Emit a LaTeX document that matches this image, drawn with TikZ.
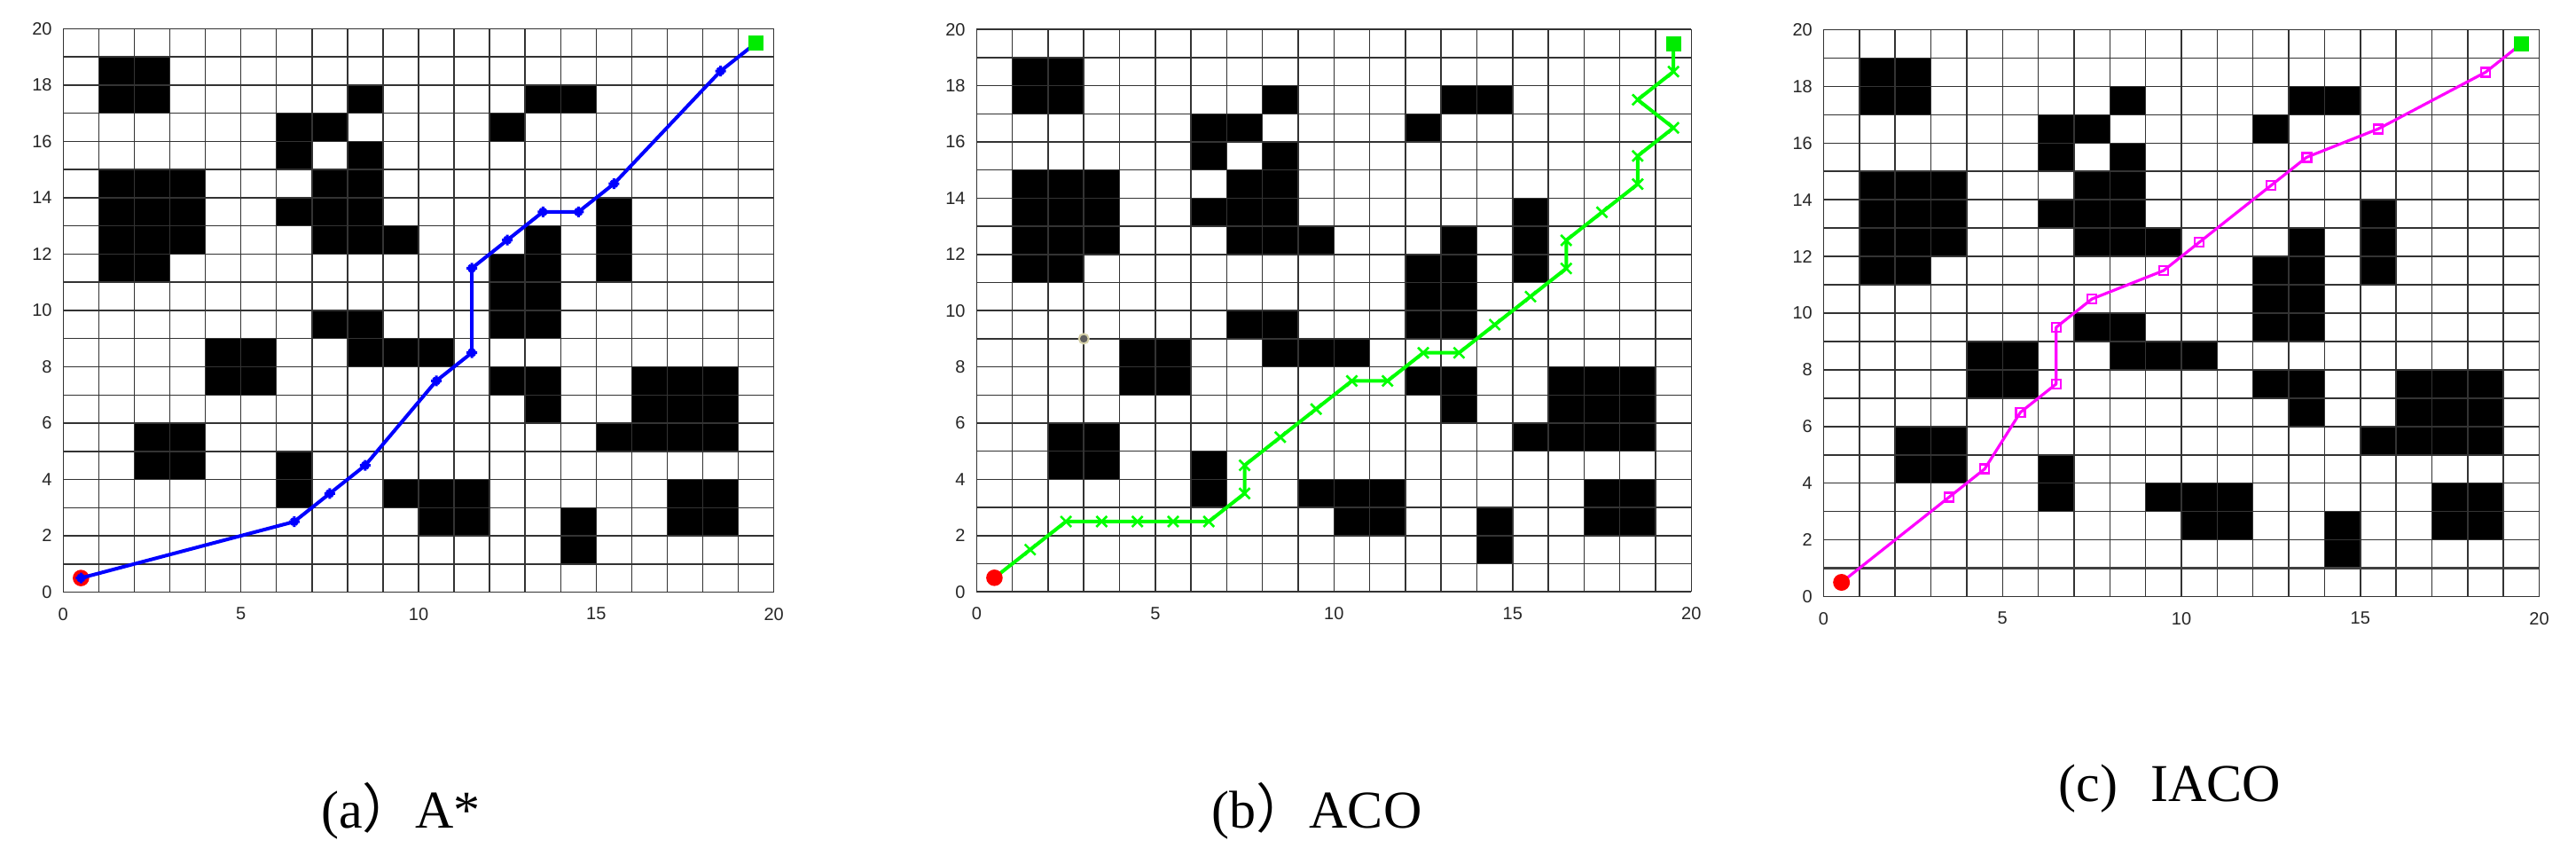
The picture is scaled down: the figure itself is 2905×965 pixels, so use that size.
\documentclass[tikz,border=0pt]{standalone}
\usepackage{fontspec}
\setmainfont{Liberation Serif}
\newfontfamily\axisfont{Liberation Sans}
\newfontfamily\cjkfont{Noto Sans CJK SC}
\definecolor{pathblue}{RGB}{0,0,255}
\definecolor{pathgreen}{RGB}{0,255,0}
\definecolor{pathmag}{RGB}{255,0,255}
\definecolor{startred}{RGB}{255,0,0}
\definecolor{goalgreen}{RGB}{0,235,0}
\definecolor{dotgray}{RGB}{95,95,95}
\definecolor{dotrim}{RGB}{215,210,170}
\tikzset{
  gridline/.style={line width=1.5pt, draw=black!80},
  obst/.style={fill=black},
  ticklab/.style={inner sep=0pt, text=black!85, font=\axisfont\fontsize{20}{24}\selectfont},
  ylab/.style={ticklab, anchor=east, xshift=-12.5pt},
  xlab/.style={ticklab, anchor=north, yshift=-17.5pt},
  figcap/.style={anchor=base, inner sep=0pt, font=\fontsize{60}{72}\selectfont},
  astarline/.style={draw=pathblue, line width=4pt, line join=round, line cap=round},
  astarmark/.style={draw=pathblue, line width=3pt},
  acoline/.style={draw=pathgreen, line width=4pt, line join=round, line cap=round},
  acomark/.style={draw=pathgreen, line width=2.6pt},
  iacoline/.style={draw=pathmag, line width=3.2pt, line join=round, line cap=round},
  iacomark/.style={draw=pathmag, line width=2.5pt},
  startpt/.style={fill=startred},
  goalpt/.style={fill=goalgreen},
}
\newcommand\gridmap[1]{%
  \foreach \ax/\ay/\bx/\by in {1/17/3/19, 8/17/9/18, 13/17/15/18, 6/16/8/17, 12/16/13/17,
    6/15/7/16, 8/15/9/16, 1/12/4/15, 1/11/3/12, 7/14/9/15, 6/13/9/14, 7/12/10/13,
    13/12/14/13, 12/9/14/12, 15/11/16/14, 7/9/9/10, 4/7/6/9, 8/8/11/9, 12/7/14/8,
    13/6/14/7, 16/5/19/8, 15/5/16/6, 2/4/4/6, 6/3/7/5, 9/3/12/4, 10/2/12/3,
    14/1/15/3, 17/2/19/4}
    \fill[obst] (\ax,\ay) rectangle (\bx,\by);
  \foreach \i in {0,...,20} {
    \draw[gridline] (\i,0) -- (\i,20);
    \draw[gridline] (0,\i) -- (20,\i);
  }
  \foreach \v in {0,2,...,20} \node[ylab] (#1y\v) at (0,\v) {\v};
  \foreach \v in {0,5,...,20} \node[xlab] (#1x\v) at (\v,0) {\v};
}
\begin{document}
\begin{tikzpicture}[x=1pt,y=-1pt]
\path[use as bounding box, fill=white] (0,0) rectangle (2905,965);

% ---------- (a) A* ----------
\begin{scope}[shift={(71.3pt,-667.5pt)}, x={(40.07pt,0pt)}, y={(0pt,31.75pt)}]
  \gridmap{a}
  \fill[startpt] (0.5,0.5) circle[radius=9.3pt];
  \draw[astarline] (0.5,0.5) -- (6.5,2.5) -- (7.5,3.5) -- (8.5,4.5) -- (10.5,7.5)
    -- (11.5,8.5) -- (11.5,11.5) -- (12.5,12.5) -- (13.5,13.5) -- (14.5,13.5)
    -- (15.5,14.5) -- (18.5,18.5) -- (19.5,19.5);
  \foreach \px/\py in {0.5/0.5, 6.5/2.5, 7.5/3.5, 8.5/4.5, 10.5/7.5, 11.5/8.5,
      11.5/11.5, 12.5/12.5, 13.5/13.5, 14.5/13.5, 15.5/14.5, 18.5/18.5}
    \draw[astarmark] (\px,\py) +(-6pt,0pt) -- +(6pt,0pt) +(0pt,-6pt) -- +(0pt,6pt)
      +(-3.5pt,-3.5pt) -- +(3.5pt,3.5pt) +(-3.5pt,3.5pt) -- +(3.5pt,-3.5pt);
  \fill[goalpt] (19.5,19.5) ++(-8.5pt,-8.5pt) rectangle ++(17pt,17pt);
\end{scope}

% ---------- (b) ACO ----------
\begin{scope}[shift={(1101.3pt,-667.2pt)}, x={(40.3pt,0pt)}, y={(0pt,31.7pt)}]
  \gridmap{b}
  \filldraw[fill=dotgray, draw=dotrim, line width=2pt] (3,9) circle[radius=5.5pt];
  \draw[acoline] (0.5,0.5) -- (1.5,1.5) -- (2.5,2.5) -- (3.5,2.5) -- (4.5,2.5) -- (5.5,2.5)
    -- (6.5,2.5) -- (7.5,3.5) -- (7.5,4.5) -- (8.5,5.5) -- (9.5,6.5) -- (10.5,7.5)
    -- (11.5,7.5) -- (12.5,8.5) -- (13.5,8.5) -- (14.5,9.5) -- (15.5,10.5) -- (16.5,11.5)
    -- (16.5,12.5) -- (17.5,13.5) -- (18.5,14.5) -- (18.5,15.5) -- (19.5,16.5)
    -- (18.5,17.5) -- (19.5,18.5) -- (19.5,19.5);
  \foreach \px/\py in {1.5/1.5, 2.5/2.5, 3.5/2.5, 4.5/2.5, 5.5/2.5, 6.5/2.5, 7.5/3.5,
      7.5/4.5, 8.5/5.5, 9.5/6.5, 10.5/7.5, 11.5/7.5, 12.5/8.5, 13.5/8.5, 14.5/9.5,
      15.5/10.5, 16.5/11.5, 16.5/12.5, 17.5/13.5, 18.5/14.5, 18.5/15.5, 19.5/16.5,
      18.5/17.5, 19.5/18.5}
    \draw[acomark] (\px,\py) +(-6pt,-6pt) -- +(6pt,6pt) +(-6pt,6pt) -- +(6pt,-6pt);
  \fill[startpt] (0.5,0.5) circle[radius=9.3pt];
  \fill[goalpt] (19.5,19.5) ++(-8.5pt,-8.5pt) rectangle ++(17pt,17pt);
\end{scope}

% ---------- (c) IACO ----------
\begin{scope}[shift={(2056.5pt,-672.5pt)}, x={(40.35pt,0pt)}, y={(0pt,31.95pt)}]
  \gridmap{c}
  \draw[line width=2.4pt, draw=black!75] (0,1) -- (20,1);
  \draw[iacoline] (0.5,0.5) -- (3.5,3.5) -- (4.5,4.5) -- (5.5,6.5) -- (6.5,7.5)
    -- (6.5,9.5) -- (7.5,10.5) -- (9.5,11.5) -- (10.5,12.5) -- (12.5,14.5)
    -- (13.5,15.5) -- (15.5,16.5) -- (18.5,18.5) -- (19.5,19.5);
  \foreach \px/\py in {3.5/3.5, 4.5/4.5, 5.5/6.5, 6.5/7.5, 6.5/9.5, 7.5/10.5,
      9.5/11.5, 10.5/12.5, 12.5/14.5, 13.5/15.5, 15.5/16.5, 18.5/18.5}
    \draw[iacomark] (\px,\py) ++(-5pt,-5pt) rectangle ++(10pt,10pt);
  \fill[startpt] (0.5,0.5) circle[radius=9.5pt];
  \fill[goalpt] (19.5,19.5) ++(-8.5pt,-8.5pt) rectangle ++(17pt,17pt);
\end{scope}

% ---------- captions ----------
\node[figcap] (capa) at (452,933) {(a{\cjkfont ）}A*};
\node[figcap] (capb) at (1485,933) {(b{\cjkfont ）}ACO};
\node[figcap] (capc) at (2447,903) {(c)\hspace{0.62em}IACO};
\end{tikzpicture}
\end{document}
